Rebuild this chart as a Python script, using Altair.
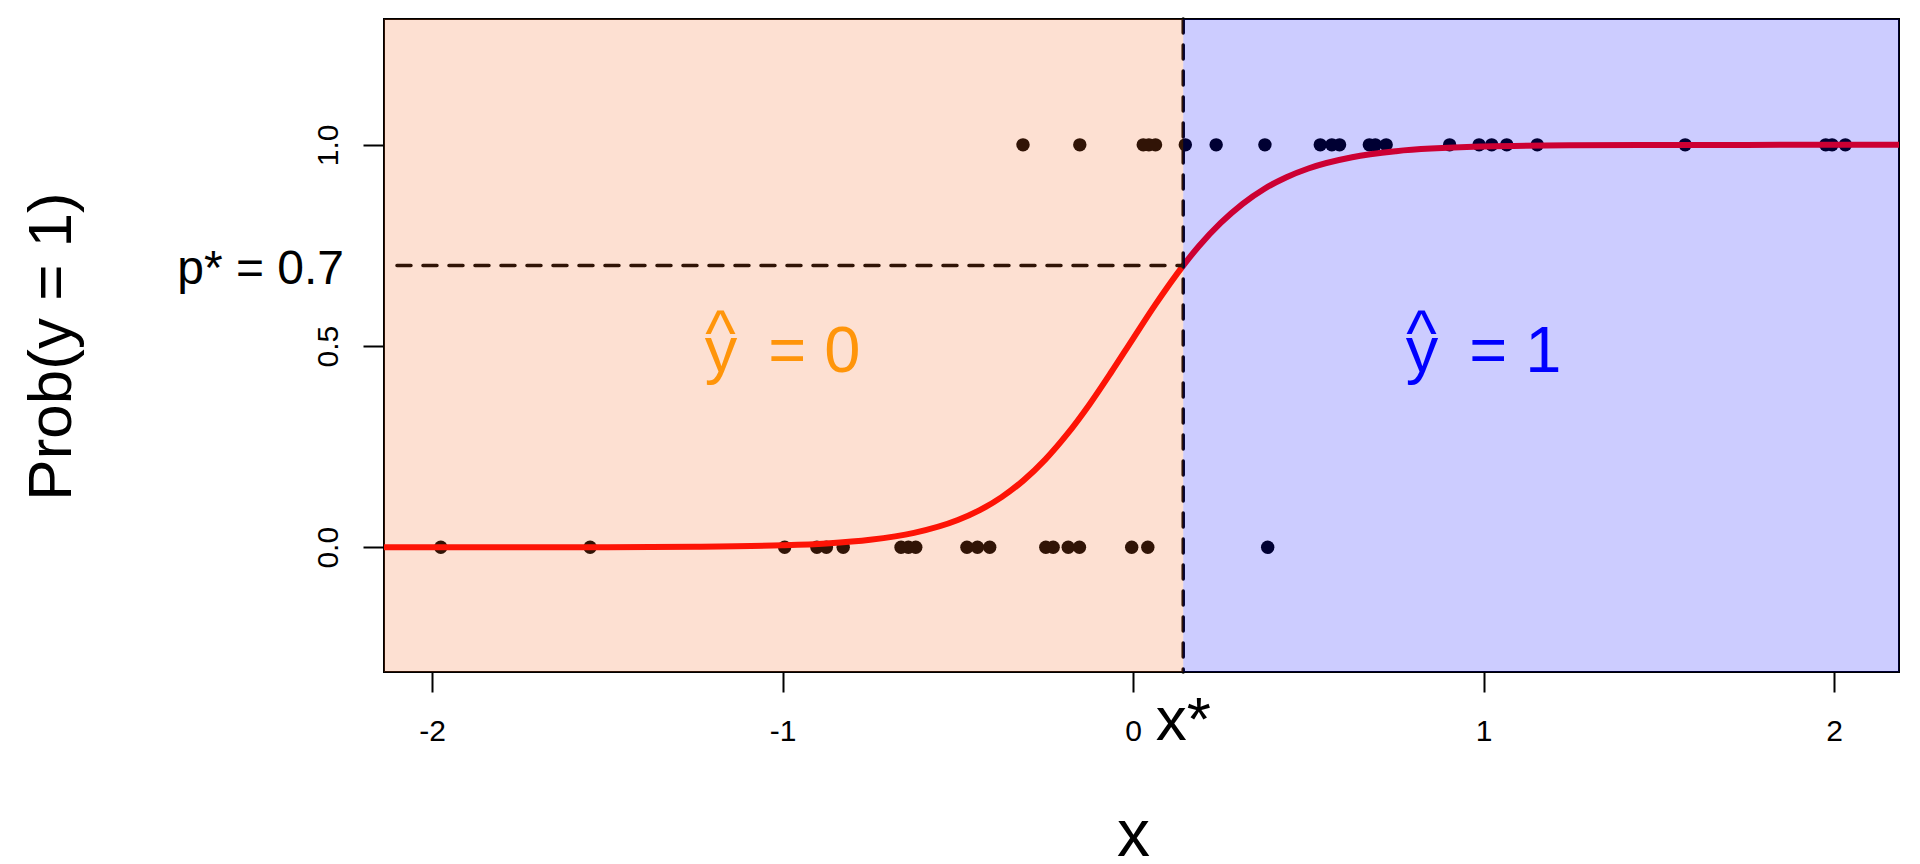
import altair as alt
import pandas as pd

# ---- data ----
x_zero = [-1.975, -1.549, -0.994, -0.902, -0.875, -0.827, -0.662, -0.641, -0.620,
          -0.474, -0.444, -0.409, -0.249, -0.228, -0.185, -0.153, -0.004, 0.042, 0.384]
x_one = [-0.314, -0.152, 0.029, 0.045, 0.064, 0.149, 0.237, 0.376, 0.534, 0.567,
         0.589, 0.674, 0.691, 0.722, 0.903, 0.987, 1.023, 1.066, 1.153, 1.575,
         1.976, 1.994, 2.032]

curve_x = [-2.137, -1.75, -1.5, -1.25, -1.0, -0.875, -0.75, -0.625, -0.5, -0.4375,
           -0.375, -0.3125, -0.25, -0.1875, -0.125, -0.0625, 0.0, 0.0625, 0.143,
           0.1875, 0.25, 0.3125, 0.375, 0.4375, 0.5, 0.625, 0.75, 1.0, 1.25, 1.5,
           1.75, 2.185]
curve_p = [0.0000, 0.0001, 0.0003, 0.0013, 0.0049, 0.0095, 0.0184, 0.0356, 0.0676,
           0.0922, 0.1246, 0.1662, 0.2184, 0.2815, 0.3543, 0.4348, 0.5187, 0.6017,
           0.7000, 0.7480, 0.8060, 0.8535, 0.8910, 0.9196, 0.9413, 0.9692, 0.9841,
           0.9958, 0.9989, 0.9997, 0.9999, 1.0000]

XLIM = [-2.137, 2.185]
YLIM = [-0.31, 1.3127]
X_STAR = 0.143
P_STAR = 0.7
H_START = -2.1

x_ticks = [-2, -1, 0, 1, 2]
y_ticks = [0.0, 0.5, 1.0]

region_names = ["y0", "y1"]
region_colors = ["#F5641E", "#0000FF"]

label_x = [-1, 1]
label_y = [0.5, 0.5]
label_text = ["y\u2009 = 0", "y\u2009 = 1"]
label_colors = ["#FF950A", "#0000FF"]

W, H = 1515, 653
FONT = "Liberation Sans"

# ---- tables ----
pts = pd.DataFrame({"x": x_zero + x_one, "y": [0] * len(x_zero) + [1] * len(x_one)})
curve = pd.DataFrame({"x": curve_x, "y": curve_p})
regions = pd.DataFrame({
    "x": [XLIM[0], X_STAR], "x2": [X_STAR, XLIM[1]],
    "y": [YLIM[0], YLIM[0]], "y2": [YLIM[1], YLIM[1]],
    "r": region_names,
})
vline = pd.DataFrame({"x": [X_STAR]})
hline = pd.DataFrame({"x": [H_START], "x2": [X_STAR], "y": [P_STAR]})
labels = pd.DataFrame({"x": label_x, "y": label_y, "t": label_text, "c": label_colors})
pstar = pd.DataFrame({"y": [P_STAR], "t": ["p* = 0.7"]})
xstar = pd.DataFrame({"x": [X_STAR], "t": ["x*"]})

xs = alt.Scale(domain=XLIM, nice=False, zero=False)
ys = alt.Scale(domain=YLIM, nice=False, zero=False)

x_axis = alt.Axis(
    values=x_ticks,
    labelExpr="datum.value < 0 ? '-' + format(-datum.value, 'd') : format(datum.value, 'd')",
    title="x", titleFontSize=66, titleFontWeight="normal", titleColor="black",
    titleX=749, titleY=183, titleAlign="center", titleBaseline="alphabetic",
    tickSize=20, tickWidth=2, tickColor="black",
    labelFontSize=30, labelColor="black", labelPadding=48, labelBaseline="alphabetic",
    labelFlush=False, labelOverlap=False, domain=False, grid=False,
)
y_axis = alt.Axis(
    values=y_ticks, format=".1f",
    labelAngle=270, labelAlign="center", labelBaseline="alphabetic", labelPadding=26,
    labelFontSize=30, labelColor="black", labelFlush=False, labelOverlap=False,
    tickSize=21, tickWidth=2, tickColor="black",
    title="Prob(y = 1)", titleFontSize=62, titleFontWeight="normal", titleColor="black",
    titleAngle=270, titleX=-314, titleY=327, titleAlign="center", titleBaseline="alphabetic",
    domain=False, grid=False,
)


def X(field="x:Q"):
    return alt.X(field, scale=xs, axis=x_axis)


def Y(field="y:Q"):
    return alt.Y(field, scale=ys, axis=y_axis)


points = alt.Chart(pts).mark_circle(size=180, color="black", opacity=1).encode(x=X(), y=Y())

line = alt.Chart(curve).mark_line(color="#FF0000", strokeWidth=6, interpolate="monotone", clip=True).encode(
    x=X(), y=Y()
)

vrule = alt.Chart(vline).mark_rule(color="black", strokeWidth=3.5, strokeDash=[14, 12], strokeCap="round").encode(
    x=X()
)
hrule = alt.Chart(hline).mark_rule(color="black", strokeWidth=3.5, strokeDash=[14, 12], strokeCap="round").encode(
    x=X(), x2="x2:Q", y=Y()
)

rects = alt.Chart(regions).mark_rect(opacity=0.2).encode(
    x=X(), x2="x2:Q", y=Y(), y2="y2:Q",
    color=alt.Color("r:N", scale=alt.Scale(domain=region_names, range=region_colors), legend=None),
)

txt = alt.Chart(labels).mark_text(font=FONT, fontSize=65, align="center", baseline="alphabetic", dy=26).encode(
    x=X(), y=Y(), text="t:N", color=alt.Color("c:N", scale=None),
)
hats = alt.Chart(labels).mark_text(font=FONT, fontSize=65, align="center", baseline="alphabetic", dx=-62, dy=9).encode(
    x=X(), y=Y(), text=alt.value("^"), color=alt.Color("c:N", scale=None),
)

ptxt = alt.Chart(pstar).mark_text(font=FONT, fontSize=48, align="right", baseline="alphabetic", dy=18, color="black").encode(
    x=alt.value(-40), y=Y(), text="t:N"
)
xtxt = alt.Chart(xstar).mark_text(font=FONT, fontSize=62, align="center", baseline="alphabetic", color="black").encode(
    x=X(), y=alt.value(721), text="t:N"
)

chart = alt.layer(points, line, vrule, hrule, rects, txt, hats, ptxt, xtxt).properties(
    width=W, height=H,
    autosize=alt.AutoSizeParams(type="none"),
    padding={"left": 376, "top": 11, "right": 13, "bottom": 185},
).configure(
    font=FONT,
).configure_view(
    stroke="black", strokeWidth=2, fill="white",
)

chart.save("out.html", embed_options={"renderer": "svg", "actions": False})
